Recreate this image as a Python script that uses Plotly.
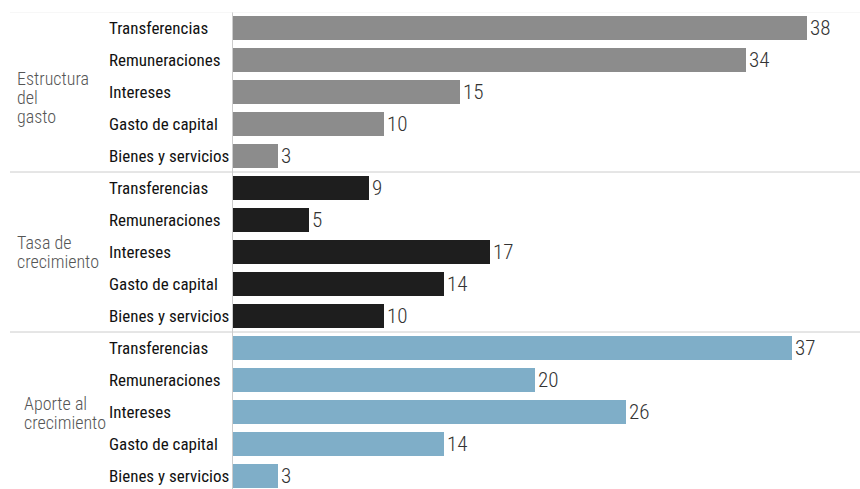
import plotly.graph_objects as go

group_lines = [["Estructura", "del", "gasto"], ["Tasa de", "crecimiento"], ["Aporte al", "crecimiento"]]
categories = ["Transferencias", "Remuneraciones", "Intereses", "Gasto de capital", "Bienes y servicios"]
estructura = [38, 34, 15, 10, 3]
tasa = [9, 5, 17, 14, 10]
aporte = [37, 20, 26, 14, 3]
colors = ["#8c8c8c", "#1e1e1e", "#7faec8"]
group_label_x = [15, 15, 22]
group_label_shift = [-5, 0, -1]

W, H = 860, 489
L, T = 233, 12
PW = W - L
ROW = 32
LINE_H = 19

series = [estructura, tasa, aporte]
fig = go.Figure()
n = len(categories)
for g, vals in enumerate(series):
    ys = [g * n + i for i in range(n)]
    fig.add_trace(go.Bar(
        x=vals, y=ys, orientation="h", width=0.72,
        marker=dict(color=colors[g], line=dict(width=0)),
        text=[str(v) for v in vals], textposition="outside",
        textfont=dict(family="Roboto Condensed", size=22, color="#333333", weight=300),
        cliponaxis=False, showlegend=False, hoverinfo="skip",
    ))
    for i, c in enumerate(categories):
        fig.add_annotation(
            x=(107 - L) / PW, xref="paper", y=g * n + i, yref="y",
            text=c, showarrow=False, xanchor="left", yanchor="middle",
            font=dict(family="Roboto Condensed", size=17, color="#111111", weight=400),
        )
    lines = group_lines[g]
    mid = (len(lines) - 1) / 2
    for k, ln in enumerate(lines):
        fig.add_annotation(
            x=(group_label_x[g] - L) / PW, xref="paper", y=g * n + 2, yref="y",
            yshift=(mid - k) * LINE_H + group_label_shift[g],
            text=ln, showarrow=False, xanchor="left", yanchor="middle", align="left",
            font=dict(family="Roboto Condensed", size=18, color="#555555", weight=300),
        )
    fig.add_shape(type="line", xref="paper", yref="y",
                  x0=(10 - L) / PW, x1=1, y0=g * n - 0.5, y1=g * n - 0.5,
                  line=dict(color="#cccccc" if g > 0 else "#f0f0f0", width=1))

ybottom = (H - T) / ROW - 0.5
fig.update_layout(
    width=W, height=H, margin=dict(l=L, r=0, t=T, b=0),
    plot_bgcolor="white", paper_bgcolor="white", bargap=0,
    xaxis=dict(range=[0, PW / 15.1], visible=False),
    yaxis=dict(range=[ybottom, -0.5], showticklabels=False, showgrid=False, zeroline=False,
               showline=True, linecolor="#cccccc", linewidth=1),
)
fig.write_html("out.html")
